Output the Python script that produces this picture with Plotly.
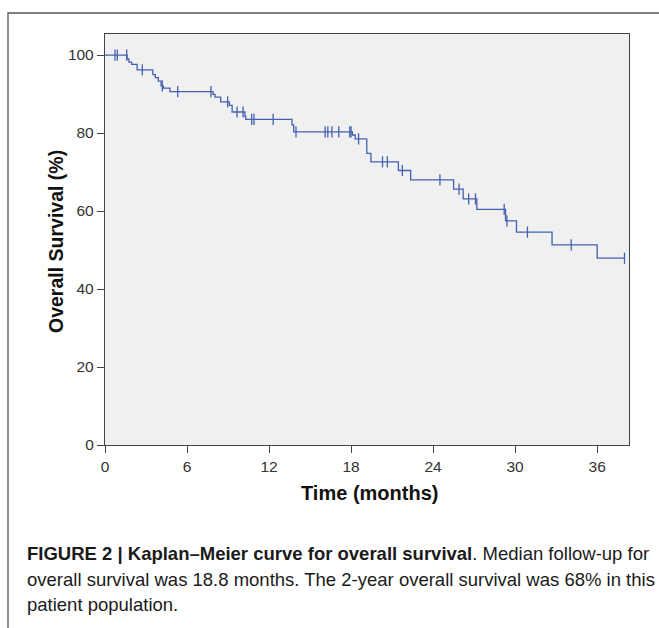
import plotly.graph_objects as go

# ---- data ----
event_times = [1.62, 1.75, 1.95, 2.35, 3.5, 3.68, 3.9, 4.1, 4.27, 4.75,
               7.9, 8.05, 8.46, 9.1, 9.3, 10.24, 10.3, 13.68, 13.8,
               18.1, 18.3, 19.15, 19.45, 21.46, 22.36, 25.5, 26.2, 27.2,
               29.3, 30.1, 32.7, 36.0]
surv_levels = [99.0, 98.2, 97.6, 96.2, 95.0, 94.2, 93.3, 92.1, 91.5, 90.6,
               89.9, 89.2, 88.0, 87.1, 85.4, 84.3, 83.5, 82.1, 80.3,
               79.5, 78.5, 74.8, 72.6, 70.4, 68.0, 65.6, 63.1, 60.4,
               57.5, 54.6, 51.3, 47.9]
last_followup = 38.0
censor_times = [0.73, 0.9, 1.59, 2.73, 4.19, 5.32, 7.75, 8.97, 9.66, 10.1,
                10.73, 10.9, 12.3, 13.97, 16.1, 16.3, 16.6, 17.1, 17.9, 18.0,
                18.55, 20.3, 20.65, 21.75, 24.5, 25.9, 26.6, 27.1, 29.2, 29.4,
                30.9, 34.1, 38.0]
x_ticks = [0, 6, 12, 18, 24, 30, 36]
y_ticks = [0, 20, 40, 60, 80, 100]

# ---- layout geometry (pixels) ----
W, H = 659, 628
L, R, T, B = 105, 629, 34, 445
X_MAX, Y_MAX = 38.33, 105.4
COLOR = "#4460b2"
FONT = "Liberation Sans, Arial, Helvetica, sans-serif"


def px(xp):
    return (xp - L) / (R - L)


def py(yp):
    return (B - yp) / (B - T)


def surv_at(t):
    s = 100.0
    for et, lv in zip(event_times, surv_levels):
        if et <= t:
            s = lv
    return s


xs = [0] + event_times + [last_followup]
ys = [100] + surv_levels + [surv_levels[-1]]

fig = go.Figure()
fig.add_trace(go.Scatter(x=xs, y=ys, mode="lines", line=dict(color=COLOR, width=1.3, shape="hv"),
                         hoverinfo="skip", showlegend=False))
fig.add_trace(go.Scatter(x=censor_times, y=[surv_at(t) for t in censor_times], mode="markers",
                         marker=dict(symbol="line-ns", size=8, line=dict(color=COLOR, width=1.3)),
                         showlegend=False, hoverinfo="skip"))

axis_common = dict(showgrid=False, zeroline=False, showline=True, linecolor="#444", linewidth=1.3,
                   mirror=True, ticks="outside", ticklen=7, tickcolor="#444", tickwidth=1,
                   tickfont=dict(family=FONT, size=15.5, color="#333"))
fig.update_xaxes(range=[0, X_MAX], tickvals=x_ticks, ticktext=[str(v) for v in x_ticks], **axis_common)
fig.update_yaxes(range=[0, Y_MAX], tickvals=y_ticks, ticktext=[str(v) for v in y_ticks], **axis_common)

annotations = [
    dict(text="<b>Overall Survival (%)</b>", x=px(56), y=py(242), textangle=-90,
         font=dict(family=FONT, size=19.5, color="#111")),
    dict(text="<b>Time (months)</b>", x=px(369), y=py(493),
         font=dict(family=FONT, size=20, color="#111")),
    dict(text="<b>FIGURE 2 | Kaplan–Meier curve for overall survival</b>. Median follow-up for",
         x=px(25), y=py(553), xanchor="left", font=dict(family=FONT, size=18.5, color="#1a1a1a")),
    dict(text="overall survival was 18.8 months. The 2-year overall survival was 68% in this",
         x=px(25), y=py(579), xanchor="left", font=dict(family=FONT, size=18.5, color="#1a1a1a")),
    dict(text="patient population.",
         x=px(25), y=py(604), xanchor="left", font=dict(family=FONT, size=18.5, color="#1a1a1a")),
]
for a in annotations:
    a.update(xref="paper", yref="paper", showarrow=False, yanchor=a.get("yanchor", "middle"),
             xanchor=a.get("xanchor", "center"))

fig.update_layout(
    width=W, height=H,
    margin=dict(l=L, r=W - R, t=T, b=H - B, pad=0),
    paper_bgcolor="white", plot_bgcolor="#f0f0f0",
    annotations=annotations,
    shapes=[dict(type="path", xref="paper", yref="paper",
                 path=f"M {px(700)} {py(13)} L {px(8)} {py(13)} L {px(8)} {py(700)}",
                 line=dict(color="#555", width=1.3))],
)

fig.write_html("out.html")
